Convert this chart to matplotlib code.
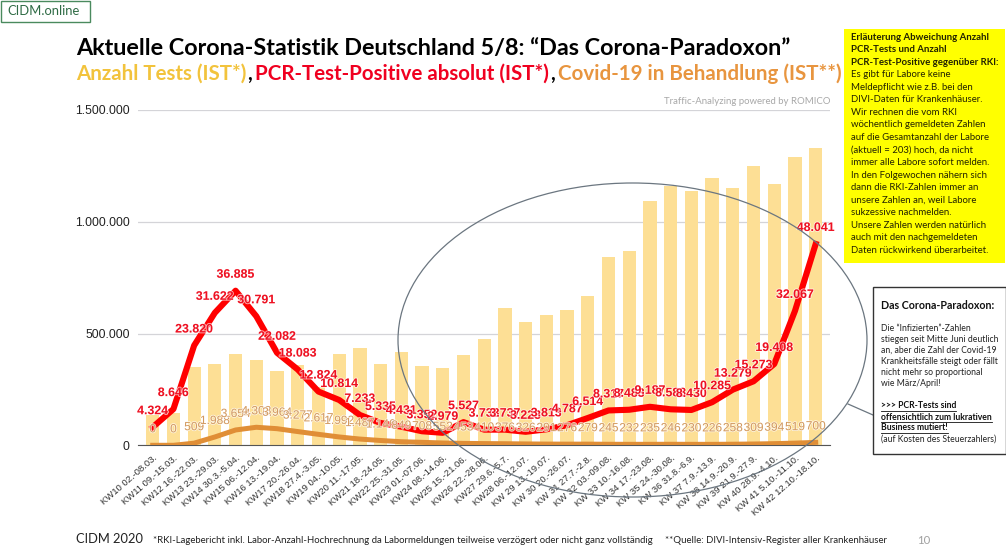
import matplotlib
matplotlib.use('Agg')
import matplotlib.pyplot as plt
import matplotlib.patheffects as pe
from matplotlib.patches import Ellipse, Rectangle
from matplotlib.lines import Line2D

W, H = 1006, 548

weeks = ['KW10 02.-08.03.', 'KW11 09.-15.03.', 'KW12 16.-22.03.', 'KW13 23.-29.03.',
         'KW14 30.3.-5.04.', 'KW15 06.-12.04.', 'KW16 13.-19.04.', 'KW17 20.-26.04.',
         'KW18 27.4.-3.05.', 'KW19 04.-10.05.', 'KW20 11.-17.05.', 'KW21 18.-24.05.',
         'KW22 25.-31.05.', 'KW23 01.-07.06.', 'KW24 08.-14.06.', 'KW25 15.-21.06.',
         'KW26 22.-28.06.', 'KW27 29.6.-5.7.', 'KW28 06.-12.07.', 'KW 29 13.-19.07.',
         'KW 30 20.-26.07.', 'KW 31 27.7.-2.8.', 'KW 32 03.-09.08.', 'KW 33 10.-16.08.',
         'KW 34 17.-23.08.', 'KW 35 24.-30.08.', 'KW 36 31.8.-6.9.', 'KW 37 7.9.-13.9.',
         'KW 38 14.9.-20.9.', 'KW 39 21.9.-27.9.', 'KW 40 28.9.-4.10.', 'KW 41 5.10.-11.10.',
         'KW 42 12.10.-18.10.']

# tests per week
tests = [136000, 144000, 350000, 362000, 407000, 383000, 331000, 361000,
         260000, 407000, 434000, 362000, 419000, 353000, 347000, 404000,
         475000, 612000, 551000, 585000, 606000, 668000, 841000, 871000,
         1091000, 1159000, 1138000, 1195000, 1151000, 1248000, 1169000, 1290000, 1329000]

# positive tests, some labels overlap so last digits are estimates
positive = [4324, 8646, 23820, 31622, 36885, 30791, 22082, 18083,
            12824, 10814, 7233, 5335, 4431, 3352, 2979, 5527,
            3733, 3737, 3223, 3813, 4787, 6514, 8317, 8483,
            9187, 8588, 8430, 10285, 13279, 15273, 19408, 32067, 48041]

# covid-19 patients in treatment
patients = [0, 0, 509, 1988, 3654, 4303, 3964, 3277,
            2617, 1992, 1487, 1146, 849, 708, 552, 453,
            410, 376, 326, 291, 276, 279, 245, 232,
            235, 246, 230, 226, 258, 309, 394, 519, 700]

y_ticks = [0, 500000, 1000000, 1500000]
y_labels = ['0', '500.000', '1.000.000', '1.500.000']


def de(v):
    return f'{v:,}'.replace(',', '.')


def px(x, y):
    return x / W, 1 - y / H


plt.rcParams['font.family'] = ['Liberation Sans', 'DejaVu Sans']
slide_font = ['Lato', 'DejaVu Sans']

fig = plt.figure(figsize=(W / 100, H / 100), dpi=100)
ax = fig.add_axes([138 / W, (H - 445.3) / H, 692 / W, 335.3 / H])

x = list(range(len(weeks)))
ax.bar(x, tests, width=0.64, color='#fddf95', zorder=2)
ax.set_xlim(-0.71, 32.69)
ax.set_ylim(0, 1500000)
ax.set_yticks(y_ticks)
ax.set_yticklabels(y_labels, fontsize=8.8, color='#222222')
ax.set_xticks(x)
ax.set_xticklabels(weeks, fontsize=6.8, color='#333333', rotation=41, ha='right',
                   rotation_mode='anchor')
ax.tick_params(axis='both', length=0, pad=6)
ax.grid(axis='y', color='#d4d4d8', lw=0.9, zorder=0)
ax.set_axisbelow(True)
for s in ['top', 'right', 'left']:
    ax.spines[s].set_visible(False)
ax.spines['bottom'].set_color('#555555')

# both lines sit on a hidden second scale
ax2 = ax.twinx()
ax2.set_ylim(0, 80000)
ax2.axis('off')
ax2.plot(x, positive, color='#ff0000', lw=4.4, solid_joinstyle='round', zorder=3)
ax2.plot(x, patients, color='#e08e36', lw=3.6, solid_joinstyle='round', zorder=4)

halo = [pe.withStroke(linewidth=1.2, foreground='white', alpha=0.7)]
for i, v in enumerate(positive):
    ax2.annotate(de(v), (i, v), xytext=(0, 11.5), textcoords='offset points', ha='center',
                 va='center', fontsize=8.9, fontweight='bold', color='#ee1122',
                 path_effects=halo, zorder=5)
for i, v in enumerate(patients):
    ax2.annotate(de(v), (i, v), xytext=(0, 11.5), textcoords='offset points', ha='center',
                 va='center', fontsize=8.6, color='#d39a60',
                 path_effects=halo, zorder=6)

fig.text(*px(830.5, 102), 'Traffic-Analyzing powered by ROMICO', fontsize=6.9, color='#a8a8a8',
         ha='right', va='center', family=slide_font)

# ellipse around the summer weeks and the line to the note
fig.add_artist(Ellipse(px(632.5, 340), 469 / W, 314 / H, fill=False, ec='#6b7680', lw=0.9,
                       transform=fig.transFigure, zorder=7))
fig.add_artist(Line2D([848 / W, 873 / W], [1 - 404 / H, 1 - 415 / H], color='#6b7680', lw=0.9))

# header
fig.add_artist(Rectangle(px(0.5, 22), 89.5 / W, 21.5 / H, fill=False, ec='#4a8a5e', lw=1.0,
                         transform=fig.transFigure))
fig.text(*px(7, 11), 'CIDM.online', fontsize=9.4, color='#2f6b45', va='center', family=slide_font)
fig.text(*px(76, 48), 'Aktuelle Corona-Statistik Deutschland 5/8: \u201cDas Corona-Paradoxon\u201d',
         fontsize=16.8, fontweight='bold', color='black', va='center', family=slide_font)

fig.canvas.draw()
renderer = fig.canvas.get_renderer()
cur = 76
for txt, col in [('Anzahl Tests (IST*)', '#f2c33c'), (',', 'black'),
                 ('PCR-Test-Positive absolut (IST*)', '#f00020'), (',', 'black'),
                 ('Covid-19 in Behandlung (IST**)', '#e8953f')]:
    t = fig.text(*px(cur, 74), txt, fontsize=14.8, fontweight='bold', color=col, va='center',
                 family=slide_font)
    cur += 8 if txt == ',' else t.get_window_extent(renderer).width + 1

# yellow note
fig.add_artist(Rectangle(px(844, 263), 161 / W, 234 / H, fc='#ffff00', ec='none',
                         transform=fig.transFigure, zorder=8))
note_bold = ['Erläuterung Abweichung Anzahl', 'PCR-Tests und Anzahl',
             'PCR-Test-Positive gegenüber RKI:']
note = ['Es gibt für Labore keine', 'Meldepflicht wie z.B. bei den',
        'DIVI-Daten für Krankenhäuser.', 'Wir rechnen die vom RKI',
        'wöchentlich gemeldeten Zahlen', 'auf die Gesamtanzahl der Labore',
        '(aktuell = 203) hoch, da nicht', 'immer alle Labore sofort melden.',
        'In den Folgewochen nähern sich', 'dann die RKI-Zahlen immer an',
        'unsere Zahlen an, weil Labore', 'sukzessive nachmelden.',
        'Unsere Zahlen werden natürlich', 'auch mit den nachgemeldeten',
        'Daten rückwirkend überarbeitet.']
yy = 37
for line in note_bold:
    fig.text(*px(851, yy), line, fontsize=6.9, fontweight='bold', color='#222200', va='center',
             family=slide_font, zorder=9)
    yy += 12.55
for line in note:
    fig.text(*px(851, yy), line, fontsize=6.9, color='#222200', va='center',
             family=slide_font, zorder=9)
    yy += 12.55

# paradox note
fig.add_artist(Rectangle(px(873, 454), 132.5 / W, 167 / H, fc='white', ec='#333333', lw=1.0,
                         transform=fig.transFigure, zorder=8))
fig.text(*px(881, 305.5), 'Das Corona-Paradoxon:', fontsize=7.7, fontweight='bold', color='#111111',
         va='center', family=slide_font, zorder=9)
para = ['Die \u201cInfizierten\u201d-Zahlen', 'stiegen seit Mitte Juni deutlich',
        'an, aber die Zahl der Covid-19', 'Krankheitsfälle steigt oder fällt',
        'nicht mehr so proportional', 'wie März/April!']
yy = 328.5
for line in para:
    fig.text(*px(881, yy), line, fontsize=6.2, color='#222222', va='center', family=slide_font, zorder=9)
    yy += 11
yy = 406
for line in ['>>> PCR-Tests sind', 'offensichtlich zum lukrativen', 'Business mutiert!']:
    t = fig.text(*px(881, yy), line, fontsize=6.2, fontweight='bold', color='#111111', va='center',
                 family=slide_font, zorder=9)
    w = t.get_window_extent(renderer).width
    fig.add_artist(Line2D([881 / W, (881 + w) / W], [1 - (yy + 5) / H] * 2, color='#111111', lw=0.6, zorder=9))
    yy += 11
fig.text(*px(881, yy), '(auf Kosten des Steuerzahlers)', fontsize=6.2, color='#222222', va='center',
         family=slide_font, zorder=9)

# footer
fig.text(*px(76, 539), 'CIDM 2020', fontsize=9.3, color='#222222', va='center', family=slide_font)
fig.text(*px(153, 540.5),
         '*RKI-Lagebericht inkl. Labor-Anzahl-Hochrechnung da Labormeldungen teilweise verzögert oder nicht ganz vollständig',
         fontsize=6.95, color='#222222', va='center', family=slide_font)
fig.text(*px(665, 540.5), '**Quelle: DIVI-Intensiv-Register aller Krankenhäuser', fontsize=6.95,
         color='#222222', va='center', family=slide_font)
fig.text(*px(917, 540), '10', fontsize=8.2, color='#a0a0a0', va='center', family=slide_font)

fig.savefig('out.png', dpi=100)
